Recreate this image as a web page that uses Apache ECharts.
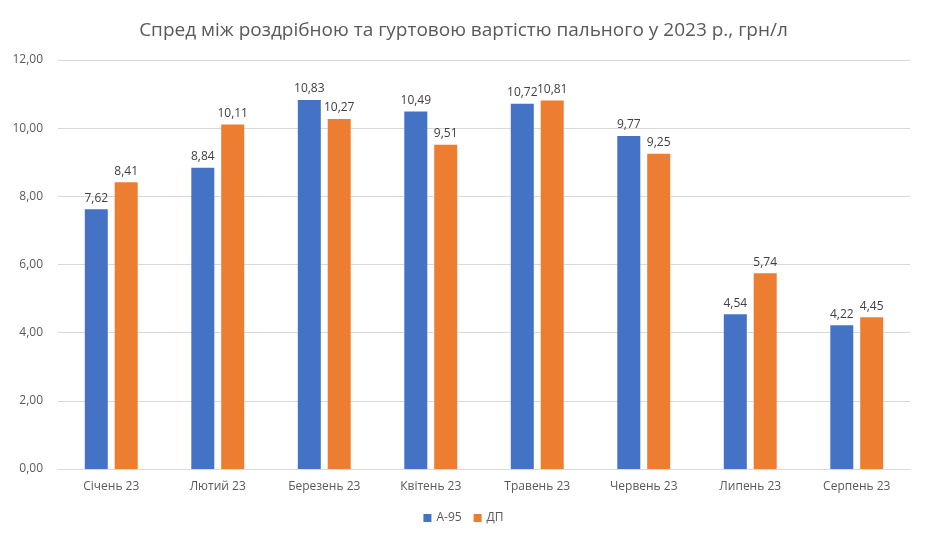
<!DOCTYPE html>
<html><head><meta charset="utf-8">
<script src="https://cdn.jsdelivr.net/npm/echarts@6/dist/echarts.min.js"></script>
<style>html,body{margin:0;padding:0;background:#fff}#c{width:927px;height:543px}</style>
</head><body><div id="c"></div>
<script>
const categories = ['Січень 23','Лютий 23','Березень 23','Квітень 23','Травень 23','Червень 23','Липень 23','Серпень 23'];
const a95 = [7.62, 8.84, 10.83, 10.49, 10.72, 9.77, 4.54, 4.22];
const dp = [8.41, 10.11, 10.27, 9.51, 10.81, 9.25, 5.74, 4.45];
const seriesNames = ['А-95', 'ДП'];
const titleText = 'Спред між роздрібною та гуртовою вартістю пального у 2023 р., грн/л';
const fmt = v => v.toFixed(2).replace('.', ',');
const chart = echarts.init(document.getElementById('c'));
const font = 'Open Sans';
const lbl = {show:true, position:'top', distance:5, color:'#404040', fontSize:12, fontFamily:font, formatter:p=>fmt(p.value)};
chart.setOption({
  animation:false,
  title:{text:titleText, left:'center', top:16, textStyle:{fontFamily:font, fontSize:19, fontWeight:'normal', color:'#595959'}},
  grid:{left:58, right:17, top:60, bottom:74, containLabel:false},
  legend:{bottom:14, left:'center', itemWidth:8, itemHeight:8, itemGap:12, icon:'rect', textStyle:{fontFamily:font, fontSize:12, color:'#595959'}, data:seriesNames},
  xAxis:{type:'category', data:categories, axisLine:{lineStyle:{color:'#d9d9d9'}}, axisTick:{show:false}, axisLabel:{color:'#595959', fontFamily:font, fontSize:12, margin:12}},
  yAxis:{type:'value', min:0, max:12, interval:2, axisLine:{show:false}, axisTick:{show:false}, splitLine:{lineStyle:{color:'#d9d9d9'}}, axisLabel:{color:'#595959', fontFamily:font, fontSize:12, margin:15, formatter:v=>fmt(v)}},
  series:[
    {name:seriesNames[0], type:'bar', data:a95, itemStyle:{color:'#4472C4'}, barWidth:23, barGap:'30%', label:lbl},
    {name:seriesNames[1], type:'bar', data:dp, itemStyle:{color:'#ED7D31'}, barWidth:23, label:lbl}
  ]
});
</script></body></html>
